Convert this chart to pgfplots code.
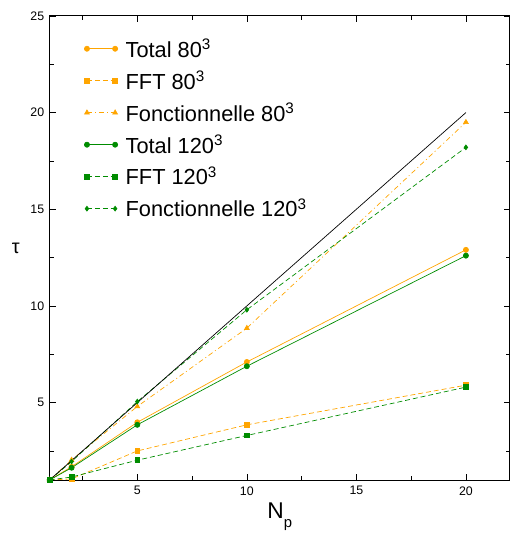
\documentclass[border=0pt]{standalone}
\usepackage{fontspec}
\setmainfont{Liberation Sans}
\usepackage{pgfplots}
\pgfplotsset{compat=1.18}
\definecolor{cor}{RGB}{255,165,0}
\definecolor{cgr}{RGB}{0,140,0}
\begin{document}
\begin{tikzpicture}
\begin{axis}[
  scale only axis,
  width=463bp, height=467bp,
  xmin=1, xmax=22, ymin=1, ymax=25,
  xtick={5,10,15,20}, ytick={5,10,15,20,25},
  minor xtick={2.5,7.5,12.5,17.5},
  minor ytick={2.5,7.5,12.5,17.5,22.5},
  tick align=inside,
  major tick length=6bp, minor tick length=4bp,
  tick style={black, line width=0.6pt},
  axis line style={line width=0.8pt},
  /pgf/number format/assume math mode=true,
  ticklabel style={font=\fontsize{12.5}{14}\selectfont},
  xticklabel style={yshift=-3bp},
  yticklabel style={xshift=-2bp},
  xlabel={\fontsize{23}{26}\selectfont N\raisebox{-9bp}{\fontsize{15}{16}\selectfont p}},
  xlabel style={at={(axis description cs:0.5,0)}, anchor=base, yshift=-39bp},
  legend cell align=left,
  legend style={draw=none, fill=none, inner sep=0pt, at={(0.075,0.955)}, anchor=north west,
    font=\fontsize{22}{25}\selectfont, row sep=8.5bp, column sep=6bp},
  legend image code/.code={\draw[mark repeat=2,mark phase=1] plot coordinates {(0cm,0cm)(0.5cm,0cm)(1cm,0cm)};},
]
\addplot[cor, line width=0.7pt, mark=*, mark size=2.6pt] coordinates {(1,1)(2,1.68)(5,3.98)(10,7.1)(20,12.9)};
\addlegendentry{Total 80\textsuperscript{3}}
\addplot[cor, line width=0.7pt, dash pattern=on 5pt off 3pt, mark=square*, mark size=2.4pt, mark options={solid}] coordinates {(1,1)(2,1.05)(5,2.5)(10,3.85)(20,5.9)};
\addlegendentry{FFT 80\textsuperscript{3}}
\addplot[cor, line width=0.7pt, dash pattern=on 5pt off 3pt on 1pt off 3pt, mark=triangle*, mark size=2.8pt, mark options={solid}] coordinates {(1,1)(2,2.03)(5,4.8)(10,8.85)(20,19.5)};
\addlegendentry{Fonctionnelle 80\textsuperscript{3}}
\addplot[cgr, line width=0.7pt, mark=*, mark size=2.6pt] coordinates {(1,1)(2,1.63)(5,3.85)(10,6.88)(20,12.6)};
\addlegendentry{Total 120\textsuperscript{3}}
\addplot[cgr, line width=0.7pt, dash pattern=on 5pt off 3pt, mark=square*, mark size=2.4pt, mark options={solid}] coordinates {(1,1)(2,1.15)(5,2.02)(10,3.3)(20,5.8)};
\addlegendentry{FFT 120\textsuperscript{3}}
\addplot[cgr, line width=0.7pt, dash pattern=on 5pt off 3pt, mark=diamond*, mark size=2.4pt, mark options={solid}] coordinates {(1,1)(2,1.95)(5,5.05)(10,9.8)(20,18.2)};
\addlegendentry{Fonctionnelle 120\textsuperscript{3}}
\addplot[black, line width=0.7pt, forget plot] coordinates {(1,1)(20,20)};
\coordinate (sw) at (rel axis cs:0,0);
\coordinate (ne) at (rel axis cs:1,1);
\coordinate (w) at (rel axis cs:0,0.5);
\end{axis}
\node[font=\fontsize{20}{22}\selectfont, anchor=center] at ([xshift=-34bp]w) {τ};
\path (sw) ++(-50bp,-51bp) (ne) ++(5bp,16bp);
\end{tikzpicture}
\end{document}
